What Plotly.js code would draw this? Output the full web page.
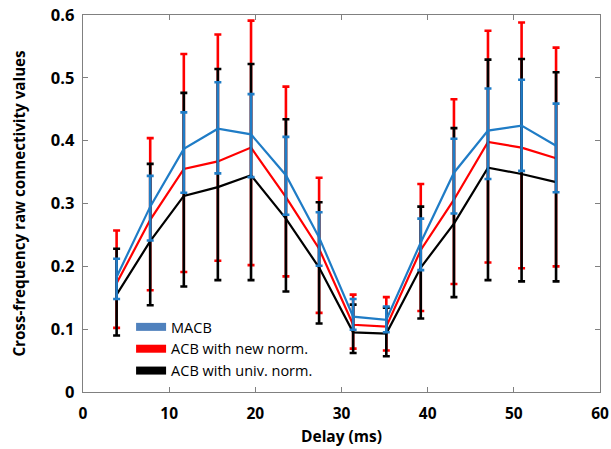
<!DOCTYPE html>
<html>
<head>
<meta charset="utf-8">
<script src="https://cdn.plot.ly/plotly-3.0.1.min.js"></script>
<style>
html,body{margin:0;padding:0;background:#fff;}
#chart{width:611px;height:449px;}
</style>
</head>
<body>
<div id="chart"></div>
<script>
// Delay (ms)
var delays = [3.9, 7.8, 11.7, 15.65, 19.5, 23.55, 27.4, 31.35, 35.2, 39.2, 43.05, 47.0, 50.9, 54.9];

// MACB
var macbMean = [0.183, 0.295, 0.387, 0.419, 0.410, 0.345, 0.246, 0.120, 0.115, 0.238, 0.349, 0.416, 0.424, 0.392];
var macbHigh = [0.212, 0.344, 0.445, 0.493, 0.474, 0.406, 0.286, 0.148, 0.136, 0.276, 0.403, 0.483, 0.497, 0.459];
var macbLow  = [0.148, 0.241, 0.317, 0.348, 0.342, 0.282, 0.201, 0.099, 0.095, 0.194, 0.284, 0.339, 0.352, 0.318];

// ACB with new norm.
var newMean = [0.173, 0.274, 0.355, 0.367, 0.389, 0.310, 0.228, 0.107, 0.104, 0.226, 0.306, 0.398, 0.389, 0.372];
var newHigh = [0.257, 0.404, 0.538, 0.569, 0.591, 0.486, 0.341, 0.155, 0.151, 0.331, 0.466, 0.575, 0.588, 0.548];
var newLow  = [0.102, 0.162, 0.191, 0.209, 0.202, 0.184, 0.126, 0.069, 0.066, 0.129, 0.172, 0.206, 0.197, 0.200];

// ACB with univ. norm.
var univMean = [0.155, 0.240, 0.312, 0.326, 0.345, 0.276, 0.198, 0.095, 0.093, 0.198, 0.268, 0.357, 0.347, 0.334];
var univHigh = [0.228, 0.363, 0.476, 0.514, 0.522, 0.434, 0.302, 0.139, 0.134, 0.295, 0.420, 0.529, 0.530, 0.509];
var univLow  = [0.090, 0.138, 0.168, 0.178, 0.178, 0.160, 0.109, 0.062, 0.057, 0.117, 0.151, 0.178, 0.176, 0.176];

var seriesNames = ["MACB", "ACB with new norm.", "ACB with univ. norm."];
var xTicks = [0, 10, 20, 30, 40, 50, 60];
var yTicks = [0, 0.1, 0.2, 0.3, 0.4, 0.5, 0.6];
var yTickText = ["0", "0.1", "0.2", "0.3", "0.4", "0.5", "0.6"];

var BLUE = "#1f7cc6", RED = "#ff0000", BLACK = "#000000";
var LEG_BLUE = "#4f81bd";
var FONT = "Open Sans, Noto Sans, sans-serif";

function diff(a, b) { return a.map(function (v, i) { return +(v - b[i]).toFixed(4); }); }

function series(mean, hi, lo, color) {
  return {
    x: delays, y: mean, type: "scatter", mode: "lines",
    line: {color: color, width: 2.2},
    showlegend: false, hoverinfo: "skip",
    error_y: {type: "data", symmetric: false,
      array: diff(hi, mean), arrayminus: diff(mean, lo),
      color: color, thickness: 2.6, width: 3.5}
  };
}
function legendItem(name, color) {
  return {x: [null], y: [null], type: "scatter", mode: "lines", name: name,
    line: {color: color, width: 8}, showlegend: true, hoverinfo: "skip"};
}

var data = [
  series(newMean, newHigh, newLow, RED),
  series(univMean, univHigh, univLow, BLACK),
  series(macbMean, macbHigh, macbLow, BLUE),
  legendItem(seriesNames[0], LEG_BLUE),
  legendItem(seriesNames[1], RED),
  legendItem(seriesNames[2], BLACK)
];

var axisCommon = {
  showline: true, linecolor: "#808080", linewidth: 1.3, mirror: "ticks",
  ticks: "inside", ticklen: 5, tickcolor: "#808080", tickwidth: 1.2,
  showgrid: false, zeroline: false
};

var layout = {
  width: 611, height: 449,
  margin: {l: 83, r: 11, t: 15, b: 57},
  paper_bgcolor: "#fff", plot_bgcolor: "#fff",
  font: {family: FONT, color: "#000"},
  xaxis: Object.assign({}, axisCommon, {
    range: [0, 60], tickvals: xTicks, ticktext: xTicks.map(String),
    ticklabelstandoff: 7,
    tickfont: {family: FONT, size: 15.5, color: "#000", weight: "bold"},
    title: {text: "Delay (ms)", standoff: 8,
      font: {family: FONT, size: 15.5, color: "#000", weight: "bold"}}
  }),
  yaxis: Object.assign({}, axisCommon, {
    range: [0, 0.6], tickvals: yTicks, ticktext: yTickText,
    ticklabelstandoff: 4,
    tickfont: {family: FONT, size: 16.5, color: "#000", weight: "bold"},
    title: {text: "Cross-frequency raw connectivity values", standoff: 21,
      font: {family: FONT, size: 15.2, color: "#000", weight: "bold"}}
  }),
  legend: {x: 0.093, y: 0.215, xanchor: "left", yanchor: "top",
    bgcolor: "rgba(0,0,0,0)", borderwidth: 0, itemwidth: 30, tracegroupgap: 0,
    font: {family: FONT, size: 14.5, color: "#000"}},
  showlegend: true
};

Plotly.newPlot("chart", data, layout, {displayModeBar: false, staticPlot: true});
</script>
</body>
</html>
